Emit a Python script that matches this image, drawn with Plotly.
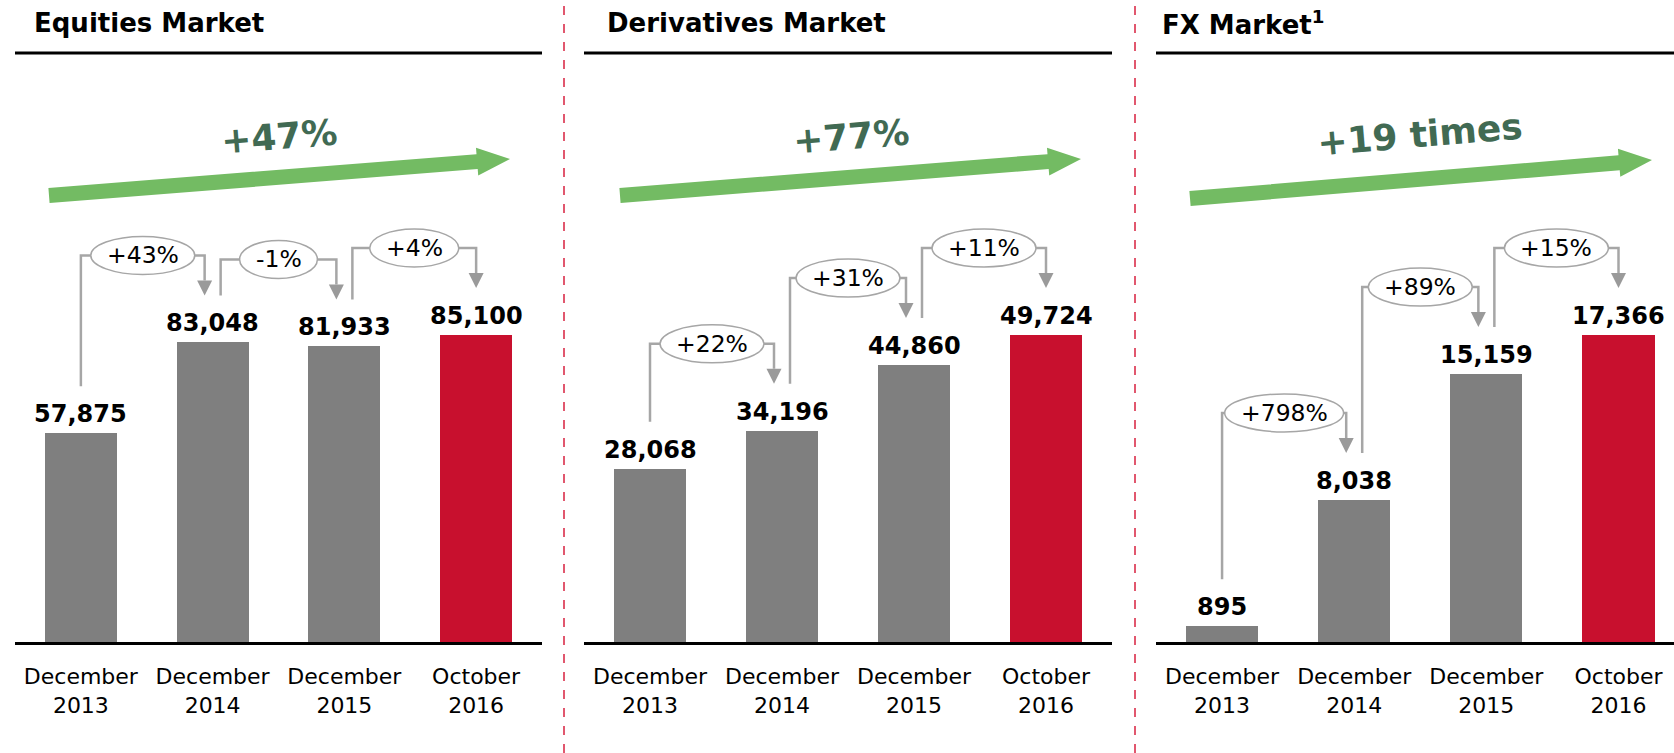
import math
import plotly.graph_objects as go

# ---------------- data ----------------
categories = ["December<br>2013", "December<br>2014", "December<br>2015", "October<br>2016"]
panel_titles = ["Equities Market", "Derivatives Market", "FX Market<sup>1</sup>"]
equities = [57875, 83048, 81933, 85100]
derivatives = [28068, 34196, 44860, 49724]
fx = [895, 8038, 15159, 17366]
equities_growth = ["+43%", "-1%", "+4%"]
derivatives_growth = ["+22%", "+31%", "+11%"]
fx_growth = ["+798%", "+89%", "+15%"]
overall_growth = ["+47%", "+77%", "+19 times"]

series = [equities, derivatives, fx]
step_growth = [equities_growth, derivatives_growth, fx_growth]

# ---------------- layout geometry (pixels) ----------------
W, H = 1674, 753
BASE_Y, TOP_Y = 642, 100
PLOT_H = BASE_Y - TOP_Y
MAXBAR_H = 307
dom_px = [(15, 542), (584, 1112), (1156, 1674)]
x_ranges = [(-0.5, 3.5), (-0.5, 3.5), (-0.5, 3.42)]
title_x_px = [32, 605, 1160]
sep_x_px = [564, 1135]
arrow_px = [((49, 195.5), (510, 159)), ((620, 195.5), (1081, 159)), ((1190, 198.5), (1652, 160))]
growth_txt_px = [(279, 136), (851, 136), (1420, 134)]

GREY = "#7f7f7f"
RED = "#c8102e"
CONN = "#a6a6a6"
FONT = "DejaVu Sans"
PCT_SIZE = 23.5

def px_x(px):
    return px / W

def px_y(py):
    return 1 - py / H

fig = go.Figure()
ymax = [max(s) * PLOT_H / MAXBAR_H for s in series]

shapes = []
annotations = []

char_w = {"+": 0.838, "-": 0.361, "%": 0.95}

def text_width(t, size):
    return sum(char_w.get(c, 0.636) for c in t) * size

for p, vals in enumerate(series):
    sfx = "" if p == 0 else str(p + 1)
    xr, yr = "x" + sfx, "y" + sfx
    colors = [GREY] * (len(vals) - 1) + [RED]
    fig.add_trace(go.Bar(
        x=list(range(len(vals))), y=vals, marker_color=colors, marker_line_width=0,
        width=0.545, xaxis=xr, yaxis=yr, hoverinfo="skip", showlegend=False,
    ))
    ax = dict(
        domain=[px_x(dom_px[p][0]), px_x(dom_px[p][1])], range=list(x_ranges[p]),
        tickmode="array", tickvals=list(range(len(vals))), ticktext=categories,
        ticks="", showgrid=False, zeroline=False, showline=True, linecolor="black",
        linewidth=2.5, tickfont=dict(family=FONT, size=22, color="black"),
        ticklabelstandoff=13, fixedrange=True, anchor=yr,
    )
    ay = dict(domain=[px_y(BASE_Y), px_y(TOP_Y)], range=[0, ymax[p]], visible=False,
              showgrid=False, zeroline=False, fixedrange=True, anchor=xr)
    fig.update_layout(**{"xaxis" + sfx: ax, "yaxis" + sfx: ay})

    xppu = (dom_px[p][1] - dom_px[p][0]) / (x_ranges[p][1] - x_ranges[p][0])
    yppu = PLOT_H / ymax[p]
    xu = lambda px, k=xppu: px / k
    yu = lambda px, k=yppu: px / k

    # value labels
    for i, v in enumerate(vals):
        annotations.append(dict(
            x=i, y=v, xref=xr, yref=yr, text=f"{v:,}", showarrow=False,
            xanchor="center", yanchor="bottom", yshift=3,
            font=dict(family=FONT, size=24, color="black", weight="bold"),
        ))

    # step connectors
    n = len(vals)
    for i in range(n - 1):
        sx = i + xu(0 if i == 0 else 8)
        tx = (i + 1) - xu(0 if i + 1 == n - 1 else 8)
        sb = vals[i] + yu(47)
        tip = vals[i + 1] + yu(47)
        lv = max(vals[i + 1] + yu(47 + 40), vals[i] + yu(47 + 26))
        ab = tip + yu(15)
        shapes.append(dict(
            type="path", xref=xr, yref=yr,
            path=f"M {sx},{sb} L {sx},{lv} L {tx},{lv} L {tx},{ab}",
            line=dict(color=CONN, width=2.5),
        ))
        hw = xu(7.5)
        shapes.append(dict(
            type="path", xref=xr, yref=yr,
            path=f"M {tx - hw},{ab} L {tx + hw},{ab} L {tx},{tip} Z",
            fillcolor="#9a9a9a", line=dict(width=0),
        ))
        mid = (sx + tx) / 2
        lab = step_growth[p][i]
        ew = text_width(lab, PCT_SIZE) + 32
        shapes.append(dict(
            type="circle", xref=xr, yref=yr,
            x0=mid - xu(ew / 2), x1=mid + xu(ew / 2),
            y0=lv - yu(19), y1=lv + yu(19),
            fillcolor="white", line=dict(color=CONN, width=1.5),
        ))
        annotations.append(dict(
            x=mid, y=lv, xref=xr, yref=yr, text=lab, showarrow=False,
            xanchor="center", yanchor="middle",
            font=dict(family=FONT, size=PCT_SIZE, color="black"),
        ))

    # title and underline
    annotations.append(dict(
        x=px_x(title_x_px[p]), y=px_y(23), xref="paper", yref="paper",
        text=panel_titles[p], showarrow=False, xanchor="left", yanchor="middle",
        font=dict(family=FONT, size=26, color="black", weight="bold"),
    ))
    shapes.append(dict(
        type="line", xref="paper", yref="paper",
        x0=px_x(dom_px[p][0]), x1=px_x(dom_px[p][1]), y0=px_y(53), y1=px_y(53),
        line=dict(color="black", width=3),
    ))

    # big green growth arrow
    (x0, y0), (x1, y1) = arrow_px[p]
    L = math.hypot(x1 - x0, y1 - y0)
    ux, uy = (x1 - x0) / L, (y1 - y0) / L
    nx, ny = -uy, ux
    sh, hl, hh = 7.5, 33, 14
    bx, by = x1 - ux * hl, y1 - uy * hl
    pts = [
        (x0 + nx * sh, y0 + ny * sh), (bx + nx * sh, by + ny * sh),
        (bx + nx * hh, by + ny * hh), (x1, y1),
        (bx - nx * hh, by - ny * hh), (bx - nx * sh, by - ny * sh),
        (x0 - nx * sh, y0 - ny * sh),
    ]
    path = "M " + " L ".join(f"{px_x(a)},{px_y(b)}" for a, b in pts) + " Z"
    shapes.append(dict(type="path", xref="paper", yref="paper", path=path,
                       fillcolor="#73bb63", line=dict(width=0)))
    ang = math.degrees(math.atan2(y1 - y0, x1 - x0))
    gx, gy = growth_txt_px[p]
    annotations.append(dict(
        x=px_x(gx), y=px_y(gy), xref="paper", yref="paper", text=overall_growth[p],
        showarrow=False, textangle=ang, xanchor="center", yanchor="middle",
        font=dict(family=FONT, size=36, color="#416a53", weight="bold"),
    ))

for sx_ in sep_x_px:
    shapes.append(dict(
        type="line", xref="paper", yref="paper", x0=px_x(sx_), x1=px_x(sx_), y0=0, y1=1,
        line=dict(color="#d8203f", width=1.5, dash="dash"),
    ))

fig.update_layout(
    width=W, height=H, margin=dict(l=0, r=0, t=0, b=0),
    paper_bgcolor="white", plot_bgcolor="white",
    shapes=shapes, annotations=annotations, bargap=0, showlegend=False,
)
fig.write_html(
    "out.html",
    config={"displayModeBar": False},
    post_script="document.body.style.margin='0px';document.body.style.overflow='hidden';",
)
